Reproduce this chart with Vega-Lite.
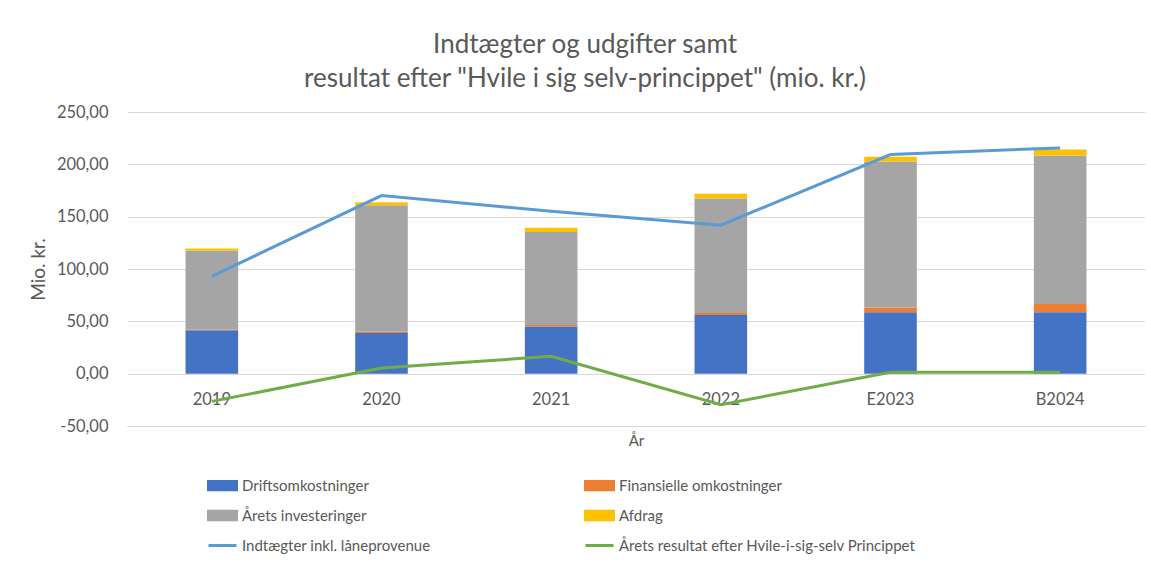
{
  "$schema": "https://vega.github.io/schema/vega-lite/v6.json",
  "width": 1018,
  "height": 314,
  "autosize": {"type": "none"},
  "padding": {"left": 127, "top": 112, "right": 6, "bottom": 141},
  "background": "white",
  "config": {
    "font": "Lato",
    "view": {"stroke": null},
    "axis": {"labelFont": "Lato", "titleFont": "Lato", "labelColor": "#595959", "titleColor": "#595959", "titleFontWeight": "normal"}
  },
  "title": {
    "text": ["Indtægter og udgifter samt", "resultat efter \"Hvile i sig selv-princippet\" (mio. kr.)"],
    "fontSize": 26,
    "fontWeight": "normal",
    "font": "Lato",
    "color": "#595959",
    "lineHeight": 34,
    "offset": 12,
    "anchor": "middle",
    "dx": -51
  },
  "datasets": {
    "vals": [
      {"Aar": "2019", "Serie": "Driftsomkostninger", "Vaerdi": 41.4},
      {"Aar": "2020", "Serie": "Driftsomkostninger", "Vaerdi": 38.9},
      {"Aar": "2021", "Serie": "Driftsomkostninger", "Vaerdi": 45.0},
      {"Aar": "2022", "Serie": "Driftsomkostninger", "Vaerdi": 56.1},
      {"Aar": "E2023", "Serie": "Driftsomkostninger", "Vaerdi": 58.6},
      {"Aar": "B2024", "Serie": "Driftsomkostninger", "Vaerdi": 58.6},
      {"Aar": "2019", "Serie": "Finansielle omkostninger", "Vaerdi": 0.8},
      {"Aar": "2020", "Serie": "Finansielle omkostninger", "Vaerdi": 1.2},
      {"Aar": "2021", "Serie": "Finansielle omkostninger", "Vaerdi": 1.5},
      {"Aar": "2022", "Serie": "Finansielle omkostninger", "Vaerdi": 1.9},
      {"Aar": "E2023", "Serie": "Finansielle omkostninger", "Vaerdi": 4.5},
      {"Aar": "B2024", "Serie": "Finansielle omkostninger", "Vaerdi": 8.0},
      {"Aar": "2019", "Serie": "Årets investeringer", "Vaerdi": 75.4},
      {"Aar": "2020", "Serie": "Årets investeringer", "Vaerdi": 120.8},
      {"Aar": "2021", "Serie": "Årets investeringer", "Vaerdi": 88.9},
      {"Aar": "2022", "Serie": "Årets investeringer", "Vaerdi": 109.3},
      {"Aar": "E2023", "Serie": "Årets investeringer", "Vaerdi": 139.6},
      {"Aar": "B2024", "Serie": "Årets investeringer", "Vaerdi": 141.8},
      {"Aar": "2019", "Serie": "Afdrag", "Vaerdi": 1.9},
      {"Aar": "2020", "Serie": "Afdrag", "Vaerdi": 2.9},
      {"Aar": "2021", "Serie": "Afdrag", "Vaerdi": 3.9},
      {"Aar": "2022", "Serie": "Afdrag", "Vaerdi": 4.7},
      {"Aar": "E2023", "Serie": "Afdrag", "Vaerdi": 4.5},
      {"Aar": "B2024", "Serie": "Afdrag", "Vaerdi": 5.8},
      {"Aar": "2019", "Serie": "Indtægter inkl. låneprovenue", "Vaerdi": 93.0},
      {"Aar": "2020", "Serie": "Indtægter inkl. låneprovenue", "Vaerdi": 170.2},
      {"Aar": "2021", "Serie": "Indtægter inkl. låneprovenue", "Vaerdi": 155.2},
      {"Aar": "2022", "Serie": "Indtægter inkl. låneprovenue", "Vaerdi": 141.8},
      {"Aar": "E2023", "Serie": "Indtægter inkl. låneprovenue", "Vaerdi": 209.4},
      {"Aar": "B2024", "Serie": "Indtægter inkl. låneprovenue", "Vaerdi": 215.7},
      {"Aar": "2019", "Serie": "Årets resultat efter Hvile-i-sig-selv Princippet", "Vaerdi": -26.5},
      {"Aar": "2020", "Serie": "Årets resultat efter Hvile-i-sig-selv Princippet", "Vaerdi": 5.4},
      {"Aar": "2021", "Serie": "Årets resultat efter Hvile-i-sig-selv Princippet", "Vaerdi": 16.6},
      {"Aar": "2022", "Serie": "Årets resultat efter Hvile-i-sig-selv Princippet", "Vaerdi": -29.6},
      {"Aar": "E2023", "Serie": "Årets resultat efter Hvile-i-sig-selv Princippet", "Vaerdi": 1.3},
      {"Aar": "B2024", "Serie": "Årets resultat efter Hvile-i-sig-selv Princippet", "Vaerdi": 1.3}
    ]
  },
  "data": {"name": "vals"},
  "encoding": {
    "x": {
      "field": "Aar",
      "type": "nominal",
      "sort": null,
      "title": "År",
      "scale": {"paddingInner": 0.69, "paddingOuter": 0.345},
      "axis": {
        "titleFontSize": 15,
        "titlePadding": 7,
        "labelAngle": 0,
        "labelFontSize": 16.5,
        "labelBaseline": "middle",
        "labelPadding": -27,
        "ticks": false,
        "tickSize": 0,
        "domain": true,
        "domainColor": "#d9d9d9",
        "domainWidth": 1,
        "grid": false
      }
    },
    "y": {
      "field": "Vaerdi",
      "type": "quantitative",
      "title": "Mio. kr.",
      "scale": {"domain": [-50, 250], "nice": false},
      "axis": {
        "titleFontSize": 19,
        "titlePadding": 8,
        "labelFontSize": 16.5,
        "labelPadding": 19,
        "values": [-50, 0, 50, 100, 150, 200, 250],
        "labelExpr": "replace(replace(format(datum.value, '.2f'), '.', ','), '−', '-')",
        "ticks": false,
        "domain": false,
        "grid": true,
        "gridColor": "#d9d9d9",
        "gridWidth": 1
      }
    }
  },
  "layer": [
    {
      "transform": [
        {"filter": "indexof(['Indtægter inkl. låneprovenue','Årets resultat efter Hvile-i-sig-selv Princippet'], datum.Serie) < 0"},
        {"calculate": "indexof(['Driftsomkostninger','Finansielle omkostninger','Årets investeringer','Afdrag'], datum.Serie)", "as": "stakorden"}
      ],
      "mark": {"type": "bar"},
      "encoding": {
        "y": {
          "field": "Vaerdi",
          "type": "quantitative",
          "stack": "zero",
          "title": "Mio. kr.",
          "scale": {"domain": [-50, 250], "nice": false},
          "axis": {
            "titleFontSize": 19,
            "titlePadding": 8,
            "labelFontSize": 16.5,
            "labelPadding": 19,
            "values": [-50, 0, 50, 100, 150, 200, 250],
            "labelExpr": "replace(replace(format(datum.value, '.2f'), '.', ','), '−', '-')",
            "ticks": false,
            "domain": false,
            "grid": true,
            "gridColor": "#d9d9d9",
            "gridWidth": 1
          }
        },
        "order": {"field": "stakorden", "type": "quantitative", "sort": "ascending"},
        "color": {
          "field": "Serie",
          "type": "nominal",
          "sort": ["Driftsomkostninger", "Finansielle omkostninger", "Årets investeringer", "Afdrag", "Indtægter inkl. låneprovenue", "Årets resultat efter Hvile-i-sig-selv Princippet"],
          "scale": {
            "domain": ["Driftsomkostninger", "Finansielle omkostninger", "Årets investeringer", "Afdrag", "Indtægter inkl. låneprovenue", "Årets resultat efter Hvile-i-sig-selv Princippet"],
            "range": ["#4472C4", "#ED7D31", "#A5A5A5", "#FFC000", "#5B9BD5", "#70AD47"]
          },
          "legend": {
            "title": null,
            "orient": "none",
            "legendX": 80,
            "legendY": 358,
            "direction": "horizontal",
            "columns": 2,
            "columnPadding": 148,
            "rowPadding": 4,
            "labelFontSize": 15,
            "labelFont": "Lato",
            "labelColor": "#595959",
            "labelLimit": 400,
            "labelOffset": 4,
            "symbolSize": 784,
            "encode": {
              "symbols": {
                "update": {
                  "shape": {"signal": "indexof(['Indtægter inkl. låneprovenue','Årets resultat efter Hvile-i-sig-selv Princippet'], datum.value) >= 0 ? 'stroke' : 'M-1,-0.3L1,-0.3L1,0.3L-1,0.3Z'"},
                  "fill": {"signal": "indexof(['Indtægter inkl. låneprovenue','Årets resultat efter Hvile-i-sig-selv Princippet'], datum.value) >= 0 ? 'transparent' : scale('color', datum.value)"},
                  "stroke": {"signal": "indexof(['Indtægter inkl. låneprovenue','Årets resultat efter Hvile-i-sig-selv Princippet'], datum.value) >= 0 ? scale('color', datum.value) : 'transparent'"},
                  "strokeWidth": {"value": 3},
                  "opacity": {"value": 1},
                  "fillOpacity": {"value": 1},
                  "strokeOpacity": {"value": 1}
                }
              }
            }
          }
        }
      }
    },
    {
      "transform": [{"filter": "indexof(['Indtægter inkl. låneprovenue','Årets resultat efter Hvile-i-sig-selv Princippet'], datum.Serie) >= 0"}],
      "mark": {"type": "line", "strokeWidth": 3},
      "encoding": {
        "color": {"field": "Serie", "type": "nominal"}
      }
    }
  ]
}
